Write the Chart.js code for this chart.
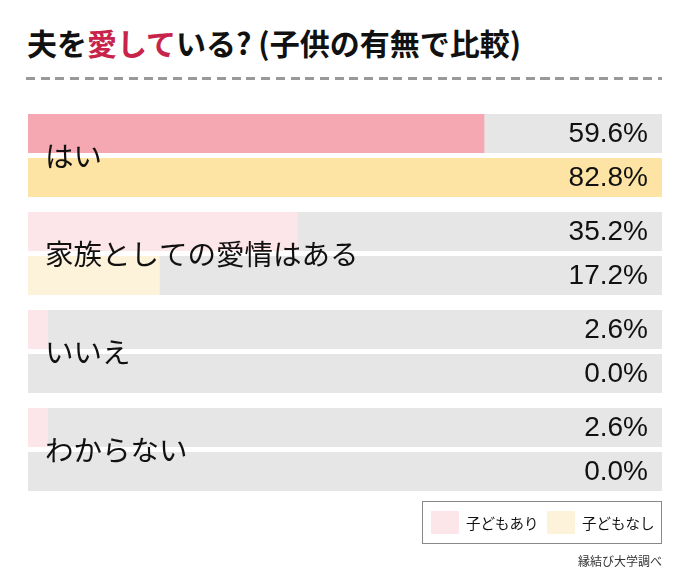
<!DOCTYPE html>
<html>
<head>
<meta charset="utf-8">
<script src="https://cdn.jsdelivr.net/npm/chart.js@4.4.1/dist/chart.umd.min.js"></script>
<style>
  body { margin: 0; background: #fff; }
  #wrap { position: relative; width: 690px; height: 572px; overflow: hidden; }
  #myChart { position: absolute; left: 0; top: 0; }
  .title {
    position: absolute; left: 27px; top: 27px; margin: 0;
    font: bold 30px/30px "Noto Sans CJK JP", sans-serif; color: #111;
    white-space: nowrap;
  }
  .title .red { color: #c8234b; }
  .dash {
    position: absolute; left: 26px; top: 77px; width: 636px; height: 3px;
    background: repeating-linear-gradient(to right, #999 0 9px, transparent 9px 14.7px);
  }
  .legend {
    position: absolute; left: 422px; top: 501px; width: 238px; height: 41px;
    border: 1px solid #888; font: 14.5px "Noto Sans CJK JP", sans-serif; color: #111;
  }
  .legend span.box { position: absolute; top: 9px; width: 28px; height: 23px; }
  .legend span.txt { position: absolute; top: 9px; line-height: 23px; white-space: nowrap; }
  .source {
    position: absolute; right: 28px; top: 552px;
    font: 12px "Noto Sans CJK JP", sans-serif; color: #333;
  }
</style>
</head>
<body>
<div id="wrap">
  <div class="title">夫を<span class="red">愛して</span>いる? (子供の有無で比較)</div>
  <div class="dash"></div>
  <canvas id="myChart" width="690" height="572"></canvas>
  <div class="legend" id="legend"></div>
  <div class="source">縁結び大学調べ</div>
</div>
<script>
const categories = ["はい", "家族としての愛情はある", "いいえ", "わからない"];
const seriesNames = ["子どもあり", "子どもなし"];
const withKids = [59.6, 35.2, 2.6, 2.6];
const withoutKids = [82.8, 17.2, 0.0, 0.0];

// first answer is highlighted, the rest are pale
const pinkColors = ["#f5a8b1", "#fde6ea", "#fde6ea", "#fde6ea"];
const yellowColors = ["#fee4a4", "#fdf2da", "#fdf2da", "#fdf2da"];
const legendColors = ["#fde6ea", "#fdf2da"];

const trackPlugin = {
  id: "track",
  beforeDatasetsDraw(chart) {
    const ctx = chart.ctx;
    const area = chart.chartArea;
    ctx.save();
    ctx.fillStyle = "#e6e6e6";
    chart.data.datasets.forEach((ds, i) => {
      chart.getDatasetMeta(i).data.forEach(bar => {
        ctx.fillRect(area.left, bar.y - bar.height / 2, area.right - area.left, bar.height);
      });
    });
    ctx.restore();
  }
};

const labelPlugin = {
  id: "labels",
  afterDatasetsDraw(chart) {
    const ctx = chart.ctx;
    const area = chart.chartArea;
    const yScale = chart.scales.y;
    ctx.save();
    ctx.fillStyle = "#111";
    ctx.textBaseline = "middle";
    // values at the right end of each track
    ctx.font = '28px "Liberation Sans", Arial, sans-serif';
    ctx.textAlign = "right";
    chart.data.datasets.forEach((ds, i) => {
      chart.getDatasetMeta(i).data.forEach((bar, j) => {
        ctx.fillText(ds.data[j].toFixed(1) + "%", area.right - 14, bar.y + 1);
      });
    });
    // answer names over the bars
    ctx.font = '28.5px "Noto Sans CJK JP", sans-serif';
    ctx.textAlign = "left";
    categories.forEach((c, j) => {
      ctx.fillText(c, area.left + 17, yScale.getPixelForValue(j) + 1);
    });
    ctx.restore();
  }
};

new Chart("myChart", {
  type: "bar",
  data: {
    labels: categories,
    datasets: [{
      label: seriesNames[0],
      data: withKids,
      backgroundColor: pinkColors
    }, {
      label: seriesNames[1],
      data: withoutKids,
      backgroundColor: yellowColors
    }]
  },
  options: {
    indexAxis: "y",
    responsive: false,
    animation: false,
    categoryPercentage: 0.898,
    barPercentage: 0.886,
    layout: { padding: { left: 28, right: 28, top: 106.5, bottom: 73.5 } },
    scales: {
      x: { display: false, min: 0, max: Math.max(...withKids, ...withoutKids) },
      y: { display: false }
    },
    plugins: {
      legend: { display: false },
      tooltip: { enabled: false }
    }
  },
  plugins: [trackPlugin, labelPlugin]
});

// legend box
const legend = document.getElementById("legend");
const boxX = [8, 124];
seriesNames.forEach((name, i) => {
  legend.innerHTML += '<span class="box" style="left:' + boxX[i] + 'px;background:' + legendColors[i] + '"></span>' +
    '<span class="txt" style="left:' + (boxX[i] + 35) + 'px">' + name + '</span>';
});
</script>
</body>
</html>
